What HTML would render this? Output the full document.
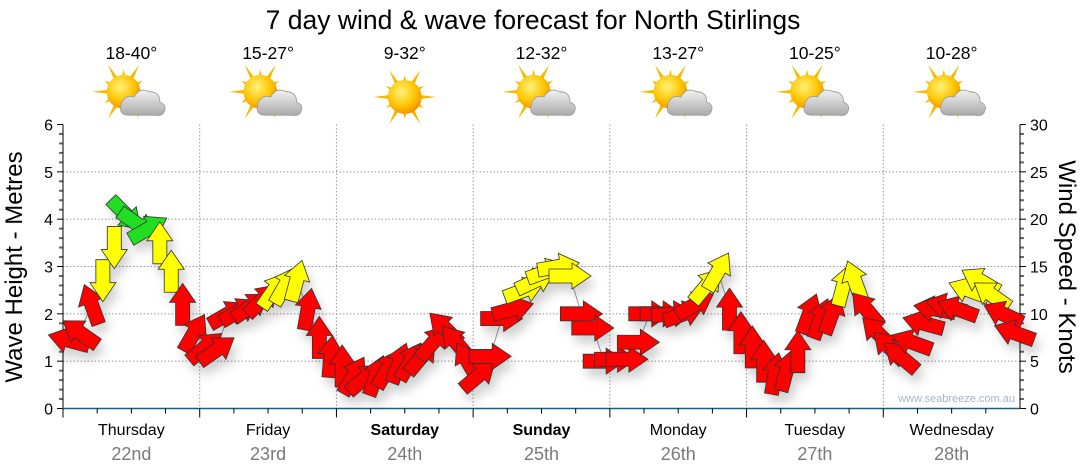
<!DOCTYPE html>
<html><head><meta charset="utf-8"><style>
body{margin:0;background:#fff;}
svg{display:block;font-family:"Liberation Sans",Arial,sans-serif;}
</style></head><body>
<svg id="chart" width="1080" height="475" viewBox="0 0 1080 475" xmlns="http://www.w3.org/2000/svg">
<defs>
<filter id="sh" x="-50%" y="-50%" width="200%" height="200%"><feDropShadow dx="4" dy="8" stdDeviation="5" flood-color="#000" flood-opacity="0.18"/></filter>
<radialGradient id="sun" cx="40%" cy="35%" r="70%"><stop offset="0" stop-color="#fff27a"/><stop offset="0.6" stop-color="#ffc400"/><stop offset="1" stop-color="#f08a00"/></radialGradient>
<linearGradient id="cloud" x1="0" y1="0" x2="0" y2="1"><stop offset="0" stop-color="#f2f2f2"/><stop offset="1" stop-color="#a8a8a8"/></linearGradient>
</defs>
<text x="533" y="29" font-size="26.5" text-anchor="middle" fill="#000">7 day wind &amp; wave forecast for North Stirlings</text>
<g id="icons"></g>
<g id="grid"></g>
<g id="axes"></g>
<g id="line"></g>
<g id="arrows" filter="url(#sh)"></g>
<text x="1015" y="402" font-size="11" text-anchor="end" fill="#a9b4c0">www.seabreeze.com.au</text>
<text transform="translate(22,267) rotate(-90)" font-size="24" text-anchor="middle">Wave Height - Metres</text>
<text transform="translate(1059,267) rotate(90)" font-size="24" text-anchor="middle">Wind Speed - Knots</text>
</svg>
<script>
const days = ["Thursday","Friday","Saturday","Sunday","Monday","Tuesday","Wednesday"];
const dates = ["22nd","23rd","24th","25th","26th","27th","28th"];
const temps = ["18-40°","15-27°","9-32°","12-32°","13-27°","10-25°","10-28°"];
const sunnyOnly = [false,false,true,false,false,false,false];
const waveTicks = [0,1,2,3,4,5,6];
const windTicks = [0,5,10,15,20,25,30];
// wind speed (knots), 2-hourly
const windSpeed = [
 7.2,8,11,13.5,17,20.5,19.5,19,17.5,14.5,11,8,
 6.5,6.2,10,10.3,10.8,11.5,12.5,13,13.5,10.5,7.5,5.5,
 4.5,3.5,3.2,3.5,4.2,4.8,5,5.5,7,8.5,7,5,
 3.5,5.5,9.5,10.5,12.5,13.5,14.5,15,14,10,8.5,5,
 5.2,5.2,7,10,10,10,10,11,13,14.5,10.5,8,
 6.5,5,3.7,4,6,10,9.5,10,13,13.5,10.5,8,
 6.5,5.5,7,9,10.5,10.8,10.5,12.5,13.5,12,10,8];
// arrow direction (screen degrees, 0 = pointing right, clockwise)
const windDir = [
 195,215,250,90,90,45,35,330,270,270,270,300,
 320,325,330,330,325,315,305,300,285,280,270,275,
 270,300,320,290,300,290,300,310,310,225,230,240,
 320,0,0,345,340,335,340,350,0,0,0,0,
 0,0,0,0,0,355,340,330,310,300,270,270,
 270,270,280,285,270,290,290,290,285,250,230,225,
 225,220,200,195,190,195,200,200,210,215,205,200];

const NS="http://www.w3.org/2000/svg";
const X0=63, X1=1020, Y0=408.5, YT=124.5;
const dayW=(X1-X0)/7;
const yW=m=>Y0-(Y0-YT)*m/6;
const yK=k=>Y0-(Y0-YT)*k/30;
const xT=i=>X0+dayW*(i+0.5)/12;
function mk(tag,attrs,parent){const e=document.createElementNS(NS,tag);for(const k in attrs)e.setAttribute(k,attrs[k]);parent.appendChild(e);return e;}
const grid=document.getElementById('grid'),axes=document.getElementById('axes'),icons=document.getElementById('icons');

waveTicks.forEach(m=>{
  if(m>0&&m<6){const g=mk('line',{x1:X0,x2:X1,y1:yW(m),y2:yW(m),stroke:'#999','stroke-width':1,'stroke-dasharray':'1.5,2'},grid);
  
  }
  const t=mk('text',{x:X0-10,y:yW(m)+6,'font-size':16,'text-anchor':'end',fill:'#000'},axes);t.textContent=m;
  
  
});
windTicks.forEach(k=>{
  const t=mk('text',{x:X1+10,y:yK(k)+6,'font-size':16,'text-anchor':'start',fill:'#000'},axes);t.textContent=k;
  
  
});
for(let i=0;i<=30;i++){const y=yK(i);const L=i%5==0?6:4;
  mk('line',{x1:X0-L,x2:X0,y1:y,y2:y,stroke:i%5==0?'#000':'#666','stroke-width':i%5==0?1:2},axes);
  mk('line',{x1:X1,x2:X1+L,y1:y,y2:y,stroke:i%5==0?'#000':'#666','stroke-width':i%5==0?1:2},axes);}
mk('line',{x1:X0,x2:X0,y1:YT,y2:Y0,stroke:'#000'},axes);
mk('line',{x1:X1,x2:X1,y1:YT,y2:Y0,stroke:'#000'},axes);
mk('line',{x1:X0-1,x2:X1,y1:Y0,y2:Y0,stroke:'#1d5a86','stroke-width':1.5},axes);
for(let d=0;d<7;d++){
  const xs=X0+d*dayW;
  if(d>0){const g=mk('line',{x1:xs,x2:xs,y1:YT,y2:Y0,stroke:'#999','stroke-dasharray':'1.5,2'},grid);
  
  }
  for(let q=0;q<4;q++){const x=xs+q*dayW/4;mk('line',{x1:x,x2:x,y1:Y0,y2:Y0+(q==0?9:5),stroke:'#000'},axes);}
  const cx=xs+dayW/2;
  const dn=mk('text',{x:cx,y:435,'font-size':16,'text-anchor':'middle','font-weight':(d==2||d==3)?'bold':'normal'},axes);dn.textContent=days[d];
  
  
  const dt=mk('text',{x:cx,y:460,'font-size':18,'text-anchor':'middle',fill:'#7a7a7a'},axes);dt.textContent=dates[d];
  
  
  const tp=mk('text',{x:cx,y:59,'font-size':17.5,'text-anchor':'middle'},icons);tp.textContent=temps[d];
  
  
  const g=mk('g',{transform:`translate(${cx},97) scale(1.3)`},icons);
  
  
  const sx=sunnyOnly[d]?0:-6, sy=sunnyOnly[d]?0:-4;
  for(let r=0;r<12;r++){const a=r*Math.PI/6;const L=(r%2?17:24);
    const p=[[sx+Math.cos(a)*L,sy+Math.sin(a)*L],[sx+Math.cos(a+0.18)*10,sy+Math.sin(a+0.18)*10],[sx+Math.cos(a-0.18)*10,sy+Math.sin(a-0.18)*10]];
    mk('polygon',{points:p.map(v=>v.join(',')).join(' '),fill:'#f6b800'},g);}
  mk('circle',{cx:sx,cy:sy,r:13,fill:'url(#sun)'},g);
  if(!sunnyOnly[d]){
    mk('path',{d:'M-2,14 Q-10,14 -8,6 Q-6,-2 2,0 Q6,-8 14,-4 Q22,-4 22,4 Q28,6 25,12 Q23,15 18,14 Z',fill:'url(#cloud)',stroke:'#999','stroke-width':0.6},g);}
}
// connecting line
const pts=windSpeed.map((k,i)=>xT(i)+','+yK(k)).join(' ');
const pl=mk('polyline',{points:pts,fill:'none',stroke:'#999','stroke-width':1},document.getElementById('line'));


const ag=document.getElementById('arrows');
windSpeed.forEach((k,i)=>{
  const col=k>=18?'#22dd22':(k>=12?'#ffff00':'#ff0000');
  const a=mk('path',{d:'M-21,-7 L2,-7 L2,-13 L21,0 L2,13 L2,7 L-21,7 Z',fill:col,stroke:'#333','stroke-width':0.8,
    transform:`translate(${xT(i)},${yK(k)}) rotate(${windDir[i]})`},ag);
  
  
});
</script>
</body></html>
